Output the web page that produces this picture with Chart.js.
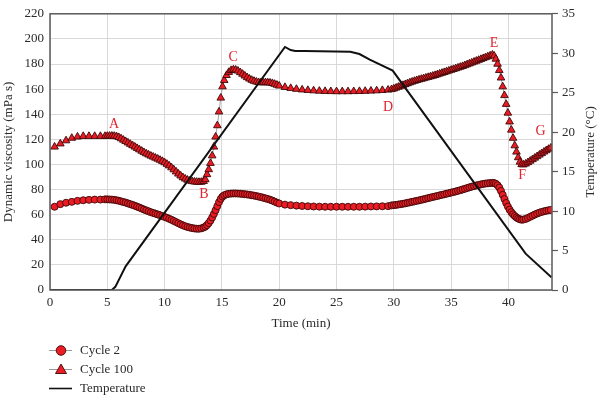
<!DOCTYPE html>
<html>
<head>
<meta charset="utf-8">
<script src="https://cdn.jsdelivr.net/npm/chart.js@4"></script>
<style>
html,body{margin:0;padding:0;background:#fff;}
#wrap{width:600px;height:397px;position:relative;}
</style>
</head>
<body>
<div id="wrap"><canvas id="c" width="600" height="397"></canvas></div>
<script>
// ---- data ----
const timeMin = [
0.4,0.9,1.4,1.9,2.4,2.9,3.4,3.9,4.4,
4.8,5.0,5.2,5.4,5.6,5.8,6.0,6.2,6.4,6.6,6.8,7.0,7.2,7.4,7.6,7.8,8.0,8.2,8.4,8.6,8.8,9.0,9.2,9.4,9.6,9.8,10.0,10.2,10.4,10.6,10.8,11.0,11.2,11.4,11.6,11.8,12.0,12.2,12.4,12.6,12.8,13.0,13.2,13.4,
13.55,13.7,13.85,14.0,14.15,14.3,14.45,14.6,14.75,14.9,15.05,
15.2,15.4,15.6,15.8,16.0,16.2,16.4,16.6,16.8,17.0,17.2,17.4,17.6,17.8,18.0,18.2,18.4,18.6,18.8,19.0,19.2,19.4,19.6,19.8,20.0,
20.5,21.0,21.5,22.0,22.5,23.0,23.5,24.0,24.5,25.0,25.5,26.0,26.5,27.0,27.5,28.0,28.5,29.0,29.5,
29.8,30.0,30.2,30.4,30.6,30.8,31.0,31.2,31.4,31.6,31.8,32.0,32.2,32.4,32.6,32.8,33.0,33.2,33.4,33.6,33.8,34.0,34.2,34.4,34.6,34.8,35.0,35.2,35.4,35.6,35.8,36.0,36.2,36.4,36.6,36.8,37.0,37.2,37.4,37.6,37.8,38.0,38.2,38.4,38.6,
38.75,38.9,39.05,39.2,39.35,39.5,39.65,39.8,39.95,40.1,40.25,40.4,40.55,40.7,40.85,41.0,41.15,
41.3,41.5,41.7,41.9,42.1,42.3,42.5,42.7,42.9,43.1,43.3,43.5,43.7
];
const cycle100 = [
114,116.5,119,121,122,122.5,122.5,122.5,122.5,
122.5,122.6,122.7,122.7,122.6,122.3,121.6,120.6,119.5,118.4,117.3,116.2,115.1,114.0,112.9,111.8,110.7,109.6,108.6,107.7,106.8,106.0,105.2,104.4,103.5,102.6,101.5,100.3,99.0,97.5,95.9,94.2,92.5,91.0,89.6,88.5,87.6,87.0,86.5,86.2,86.0,85.9,86.0,86.6,
88,92,96,101,107,114,122,131,142,153,162,
167,171,173.5,175,175.5,175.3,174.5,173.3,172,170.6,169.3,168.2,167.2,166.4,165.8,165.4,165.2,165.2,165.3,165.2,165,164.6,164,163.3,162.6,
161.5,160.7,160,159.5,159.1,158.8,158.5,158.3,158.2,158.1,158.1,158.1,158.2,158.3,158.4,158.6,158.8,159.1,159.4,
159.8,160.3,161.0,161.7,162.4,163.1,163.8,164.5,165.2,165.8,166.4,167.0,167.5,168.0,168.5,169.0,169.5,170.0,170.5,171.0,171.6,172.2,172.8,173.4,174.0,174.6,175.2,175.8,176.4,177.0,177.6,178.2,178.9,179.6,180.3,181.0,181.7,182.4,183.1,183.8,184.5,185.2,185.9,186.6,187.3,
186.5,184,180,175,169,162,155,148,141,134,127.5,121,115,110,105.5,102,100,
99.8,100.5,101.6,102.8,104.0,105.2,106.4,107.6,108.8,110.0,111.1,112.2,113.2
];
const cycle2 = [
66.3,68.4,69.5,70.2,71,71.5,71.8,72,72,
72.2,72.2,72.1,72.0,71.8,71.5,71.1,70.6,70.1,69.6,69.0,68.4,67.8,67.1,66.4,65.7,64.9,64.1,63.4,62.7,62.0,61.4,60.8,60.2,59.6,58.9,58.2,57.5,56.7,55.9,55.0,54.1,53.2,52.3,51.5,50.8,50.2,49.7,49.3,49.0,48.8,48.8,49.1,49.7,
50.5,51.7,53.3,55.3,57.8,60.6,63.6,66.8,70.0,72.6,74.4,
75.5,76.2,76.6,76.8,76.9,76.9,76.8,76.7,76.5,76.3,76.1,75.8,75.5,75.2,74.8,74.4,74.0,73.5,73.0,72.5,71.9,71.2,70.4,69.6,68.9,
68.0,67.6,67.2,66.9,66.7,66.5,66.4,66.3,66.3,66.3,66.3,66.3,66.3,66.3,66.4,66.5,66.6,66.7,66.8,
67.4,67.6,67.8,68.1,68.4,68.7,69.0,69.4,69.8,70.2,70.6,71.0,71.4,71.8,72.3,72.7,73.2,73.6,74.1,74.5,74.9,75.4,75.8,76.2,76.7,77.1,77.6,78.0,78.5,79.0,79.5,80.1,80.6,81.2,81.8,82.3,82.8,83.3,83.7,84.1,84.5,84.8,85.0,85.2,85.3,
85.2,84.6,83.4,81.6,78.9,75.8,72.5,69.3,66.5,64.0,62.0,60.3,58.9,57.8,56.9,56.3,56.0,
56.1,56.6,57.4,58.3,59.2,60.1,60.9,61.6,62.2,62.7,63.1,63.5,63.8
];
const tempTime = [0,5.4,5.7,6.6,20.5,21.0,21.4,22.2,26.2,27.0,27.9,29.9,41.5,43.75];
const tempC    = [0,0,0.4,3.0,30.8,30.4,30.3,30.3,30.2,29.9,29.2,27.8,4.6,1.6];

const xTicks = [0,5,10,15,20,25,30,35,40];
const yTicks = [0,20,40,60,80,100,120,140,160,180,200,220];
const y2Ticks = [0,5,10,15,20,25,30,35];

const seriesNames = ['Cycle 2','Cycle 100','Temperature'];
const annLetters = ['A','B','C','D','E','F','G'];
const annTime    = [5.58,13.43,15.98,29.5,38.74,41.2,42.8];
const annVisc    = [132,75.9,185,145.6,196.3,91,126.6];

// ---- chart ----
const FONT = '"Liberation Serif", "DejaVu Serif", serif';
const RED = '#ec1c24';
const DARKRED = '#3c0808';
const TXT = '#2a2a2a';

const pts = (xs, ys) => xs.map((x, i) => ({x: x, y: ys[i]}));

const framePlugin = {
  id: 'frame',
  afterDatasetsDraw(chart) {
    const {ctx, chartArea: a} = chart;
    ctx.save();
    ctx.strokeStyle = '#5a5a5a';
    ctx.lineWidth = 1.5;
    ctx.strokeRect(a.left, a.top, a.right - a.left, a.bottom - a.top);
    ctx.restore();
  },
  afterDraw(chart) {
    const {ctx, chartArea: a, scales} = chart;
    ctx.save();
    ctx.fillStyle = '#e0262e';
    ctx.font = '14px ' + FONT;
    ctx.textAlign = 'center';
    ctx.textBaseline = 'middle';
    annLetters.forEach((l, i) => {
      ctx.fillText(l, scales.x.getPixelForValue(annTime[i]), scales.y.getPixelForValue(annVisc[i]));
    });
    ctx.fillStyle = TXT;
    ctx.font = '13px ' + FONT;
    ctx.translate(591, (a.top + a.bottom) / 2);
    ctx.rotate(-Math.PI / 2);
    ctx.fillText('Temperature (°C)', 0, 0);
    ctx.restore();

    ctx.save();
    const rows = [350.5, 369.5, 388.5];
    ctx.font = '13px ' + FONT;
    ctx.textBaseline = 'middle';
    ctx.textAlign = 'left';
    rows.forEach((yy, i) => {
      if (i < 2) {
        ctx.strokeStyle = '#9a9a9a';
        ctx.lineWidth = 1;
      } else {
        ctx.strokeStyle = '#111';
        ctx.lineWidth = 1.6;
      }
      ctx.beginPath();
      ctx.moveTo(49, yy);
      ctx.lineTo(72, yy);
      ctx.stroke();
      if (i < 2) {
        ctx.fillStyle = RED;
        ctx.strokeStyle = DARKRED;
        ctx.lineWidth = 0.9;
        ctx.beginPath();
        if (i === 0) {
          ctx.arc(61, yy, 4.8, 0, Math.PI * 2);
        } else {
          ctx.moveTo(61, yy - 5.5);
          ctx.lineTo(66.5, yy + 4);
          ctx.lineTo(55.5, yy + 4);
          ctx.closePath();
        }
        ctx.fill();
        ctx.stroke();
      }
      ctx.fillStyle = TXT;
      ctx.fillText(seriesNames[i], 80, yy);
    });
    ctx.restore();
  }
};

new Chart(document.getElementById('c'), {
  type: 'scatter',
  data: {
    datasets: [
      {
        label: seriesNames[2],
        data: pts(tempTime, tempC),
        yAxisID: 'y2',
        showLine: true,
        borderColor: '#111111',
        borderWidth: 2,
        pointRadius: 0,
        tension: 0,
        order: 0
      },
      {
        label: seriesNames[1],
        data: pts(timeMin, cycle100),
        yAxisID: 'y',
        showLine: true,
        borderColor: '#a0a0a0',
        borderWidth: 1,
        pointStyle: 'triangle',
        pointRadius: 4.4,
        pointBackgroundColor: RED,
        pointBorderColor: DARKRED,
        pointBorderWidth: 0.9,
        order: 1
      },
      {
        label: seriesNames[0],
        data: pts(timeMin, cycle2),
        yAxisID: 'y',
        showLine: true,
        borderColor: '#a0a0a0',
        borderWidth: 1,
        pointStyle: 'circle',
        pointRadius: 3.5,
        pointBackgroundColor: RED,
        pointBorderColor: DARKRED,
        pointBorderWidth: 0.9,
        order: 2
      }
    ]
  },
  options: {
    responsive: false,
    animation: false,
    events: [],
    layout: {padding: {top: 8, bottom: 62, left: 0, right: 0}},
    plugins: {
      legend: {display: false},
      tooltip: {enabled: false}
    },
    scales: {
      x: {
        type: 'linear',
        min: 0,
        max: 43.8,
        afterBuildTicks: s => { s.ticks = xTicks.map(v => ({value: v})); },
        afterFit: s => { s.height = 45; },
        grid: {color: '#d9d9d9', lineWidth: 1, drawTicks: false},
        border: {display: false},
        ticks: {color: TXT, font: {family: FONT, size: 13}, padding: 5, maxRotation: 0},
        title: {display: true, text: 'Time (min)', color: TXT, font: {family: FONT, size: 13}, padding: {top: 0, bottom: 4}}
      },
      y: {
        position: 'left',
        min: 0,
        max: 220,
        afterBuildTicks: s => { s.ticks = yTicks.map(v => ({value: v})); },
        afterFit: s => { s.width = 50; },
        grid: {color: '#d9d9d9', lineWidth: 1, drawTicks: false},
        border: {display: false},
        ticks: {color: TXT, font: {family: FONT, size: 13}, padding: 6},
        title: {display: true, text: 'Dynamic viscosity (mPa s)', color: TXT, font: {family: FONT, size: 13}, padding: {top: 1, bottom: 0}}
      },
      y2: {
        position: 'right',
        min: 0,
        max: 35,
        afterBuildTicks: s => { s.ticks = y2Ticks.map(v => ({value: v})); },
        afterFit: s => { s.width = 48; },
        grid: {drawOnChartArea: false, drawTicks: true, tickLength: 6, tickColor: '#5a5a5a', tickWidth: 1.2},
        border: {display: false},
        ticks: {color: TXT, font: {family: FONT, size: 13}, padding: 4}
      }
    }
  },
  plugins: [framePlugin]
});
</script>
</body>
</html>
